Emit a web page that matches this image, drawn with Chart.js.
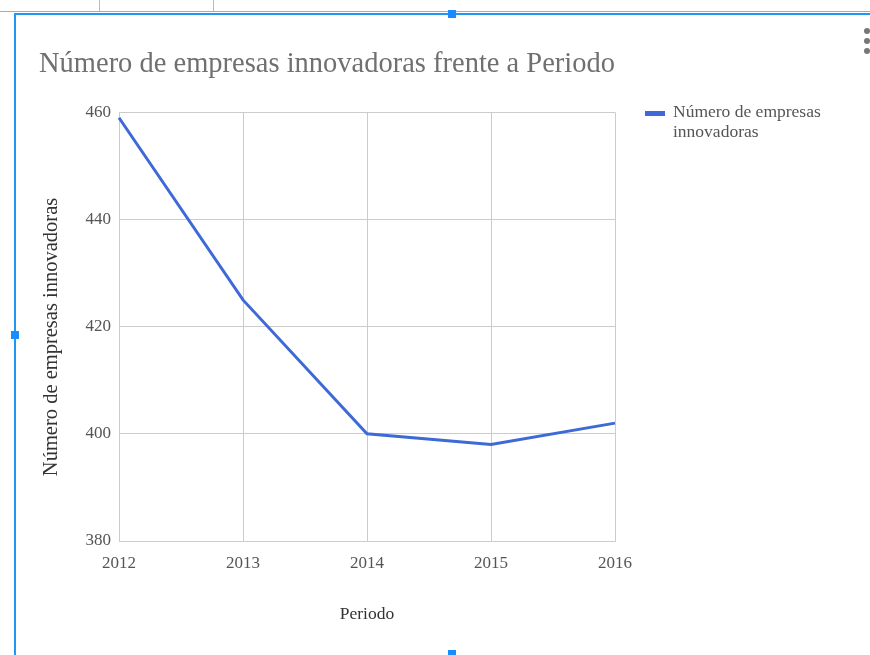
<!DOCTYPE html>
<html>
<head>
<meta charset="utf-8">
<script src="https://cdn.jsdelivr.net/npm/chart.js@4/dist/chart.umd.min.js"></script>
<style>
    html, body { margin: 0; padding: 0; background: #fff; }
    #wrap { position: relative; width: 870px; height: 655px; overflow: hidden; }
    #chartBox { position: absolute; left: 0; top: 0; width: 870px; height: 655px; }
    .legend { position: absolute; left: 645px; top: 101px; font: 17.5px 'Liberation Serif', serif; color: #555; line-height: 20px; }
    .legend .sw { position: absolute; left: 0; top: 10px; width: 20px; height: 5px; background: #3d6ad6; }
    .legend .txt { margin-left: 28px; width: 210px; }
    .frame-top-grey { position: absolute; left: 0; top: 11px; width: 870px; height: 1px; background: #aaa; }
    .frame-top { position: absolute; left: 15px; top: 13px; width: 855px; height: 2px; background: #2196f3; }
    .frame-left { position: absolute; left: 14px; top: 13px; width: 2px; height: 642px; background: #2196f3; }
    .handle { position: absolute; width: 8px; height: 8px; background: #1a8cff; }
    .tick-mark { position: absolute; top: 0; width: 1px; height: 11px; background: #bbb; }
    .dot { position: absolute; left: 864px; width: 6px; height: 6px; border-radius: 3px; background: #777; }
</style>
</head>
<body>
<div id="wrap">
    <div id="chartBox"><canvas id="chart"></canvas></div>
    <div class="legend"><span class="sw"></span><div class="txt" id="legendText"></div></div>
    <div class="frame-top-grey"></div>
    <div class="frame-top"></div>
    <div class="frame-left"></div>
    <div class="tick-mark" style="left:99px"></div>
    <div class="tick-mark" style="left:213px"></div>
    <div class="handle" style="left:448px; top:10px"></div>
    <div class="handle" style="left:11px; top:331px"></div>
    <div class="handle" style="left:448px; top:650px"></div>
    <div class="dot" style="top:28px"></div>
    <div class="dot" style="top:38px"></div>
    <div class="dot" style="top:48px"></div>
</div>
<script>
'use strict';

const periods = ['2012', '2013', '2014', '2015', '2016'];
const empresas = [459, 425, 400, 398, 402];
const yTicks = [380, 400, 420, 440, 460];

const seriesLabel = 'Número de empresas innovadoras';
const chartTitle = 'Número de empresas innovadoras frente a Periodo';

const FONT = "'Liberation Serif', 'Times New Roman', serif";
const LINE_COLOR = '#3d6ad6';
const GRID_COLOR = '#cccccc';

document.getElementById('legendText').innerHTML = 'Número de empresas<br>innovadoras';

Chart.defaults.font.family = FONT;

const ctx = document.getElementById('chart').getContext('2d');

new Chart(ctx, {
    type: 'line',
    data: {
        labels: periods,
        datasets: [{
            label: seriesLabel,
            data: empresas,
            borderColor: LINE_COLOR,
            backgroundColor: LINE_COLOR,
            borderWidth: 3,
            pointRadius: 0,
            tension: 0,
            fill: false
        }]
    },
    options: {
        responsive: true,
        maintainAspectRatio: false,
        animation: false,
        layout: {
            padding: { left: 39, right: 255, top: 0, bottom: 25 }
        },
        plugins: {
            legend: { display: false },
            tooltip: { enabled: false },
            title: {
                display: true,
                text: chartTitle,
                align: 'start',
                color: '#707070',
                font: { size: 29.5, weight: 'normal' },
                padding: { top: 47, bottom: 30 }
            }
        },
        scales: {
            x: {
                offset: false,
                grid: { color: GRID_COLOR, drawTicks: false },
                border: { color: GRID_COLOR },
                ticks: { color: '#555', font: { size: 17 }, padding: 12, maxRotation: 0 },
                title: {
                    display: true,
                    text: 'Periodo',
                    color: '#333',
                    font: { size: 17.5 },
                    padding: { top: 0, bottom: 5 }
                },
                afterFit: s => { s.height = 89; }
            },
            y: {
                min: 380,
                max: 460,
                afterBuildTicks: s => { s.ticks = yTicks.map(v => ({ value: v })); },
                grid: { color: GRID_COLOR, drawTicks: false },
                border: { color: GRID_COLOR },
                ticks: { color: '#555', font: { size: 17 }, padding: 8 },
                title: {
                    display: true,
                    // trailing spaces nudge the rotated text a bit lower, as in the original
                    text: seriesLabel + '\u00a0\u00a0\u00a0\u00a0',
                    color: '#333',
                    font: { size: 20.5 },
                    padding: { top: 0, bottom: 0 }
                },
                afterFit: s => { s.width = 80; }
            }
        }
    }
});
</script>
</body>
</html>
